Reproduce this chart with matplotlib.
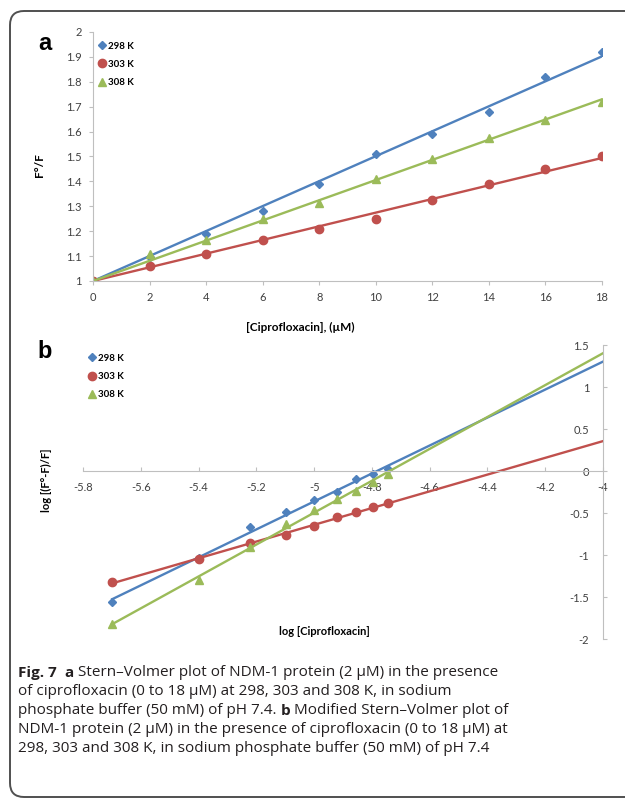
import numpy as np
import matplotlib
matplotlib.use('Agg')
from matplotlib import pyplot as plt
from matplotlib.patches import FancyBboxPatch

plt.rcParams['axes.unicode_minus'] = False
plt.rcParams['font.family'] = ['Lato', 'DejaVu Sans']

# panel a: Stern-Volmer
conc = [0, 2, 4, 6, 8, 10, 12, 14, 16, 18]
f298 = [1.0, 1.095, 1.19, 1.28, 1.39, 1.51, 1.59, 1.68, 1.82, 1.92]
f303 = [1.0, 1.06, 1.11, 1.165, 1.21, 1.25, 1.325, 1.39, 1.45, 1.50]
f308 = [1.0, 1.11, 1.165, 1.25, 1.315, 1.41, 1.49, 1.575, 1.645, 1.72]

# panel b: modified Stern-Volmer
logc = [-5.699, -5.398, -5.222, -5.097, -5.0, -4.921, -4.854, -4.796, -4.745]
l298 = [-1.56, -1.04, -0.67, -0.49, -0.345, -0.25, -0.10, -0.04, 0.02]
l303 = [-1.32, -1.05, -0.86, -0.76, -0.65, -0.55, -0.49, -0.43, -0.38]
l308 = [-1.82, -1.30, -0.91, -0.63, -0.46, -0.33, -0.24, -0.13, -0.03]

labels = ['298 K', '303 K', '308 K']
colors = ['#4F81BD', '#C0504D', '#9BBB59']
markers = ['D', 'o', '^']
msizes = [4.5, 6, 5.5]

tick_col = '#404040'
spine_col = '#BFBFBF'

fig = plt.figure(figsize=(6.25, 8.01), dpi=100)

# background layer in pixel coords
bg = fig.add_axes([0, 0, 1, 1], zorder=-1)
bg.set_xlim(0, 625)
bg.set_ylim(801, 0)
bg.axis('off')
bg.add_patch(FancyBboxPatch((10, 11), 660, 786, boxstyle='round,pad=0,rounding_size=14',
                            fc='white', ec='#505050', lw=1.4))
bg.text(45, 43, 'a', fontsize=17, fontweight='bold', family='Liberation Sans', ha='center', va='center')
bg.text(45, 351, 'b', fontsize=17, fontweight='bold', family='Liberation Sans', ha='center', va='center')

# ---- panel a ----
ax1 = fig.add_axes([0.1488, 0.6492, 0.8144, 0.3109])
ax1.set_facecolor('none')
xfit = np.linspace(0, 18, 50)
cx = np.array(conc, dtype=float)
for y, c, m, ms, lb in zip([f298, f303, f308], colors, markers, msizes, labels):
    # trendline with intercept fixed at 1
    k = np.linalg.lstsq(cx[:, None], np.array(y) - 1, rcond=None)[0][0]
    ax1.plot(xfit, 1 + k * xfit, color=c, lw=1.7)
    ax1.plot(conc, y, ls='none', marker=m, ms=ms, color=c, label=lb)
ax1.set_xlim(0, 18)
ax1.set_ylim(1, 2)
ax1.set_xticks(np.arange(0, 19, 2))
yt1 = np.round(np.arange(1, 2.01, 0.1), 1)
ax1.set_yticks(yt1)
ax1.set_yticklabels(['%g' % v for v in yt1])
for s in ['top', 'right']:
    ax1.spines[s].set_visible(False)
for s in ['left', 'bottom']:
    ax1.spines[s].set_color(spine_col)
ax1.tick_params(colors=spine_col, labelcolor=tick_col, labelsize=8, length=3, pad=5)
ax1.set_ylabel('F°/F', fontsize=8.5, fontweight='bold')
ax1.yaxis.set_label_coords(-0.094, 0.466)
ax1.set_xlabel('[Ciprofloxacin], (µM)', fontsize=8.5, fontweight='bold')
ax1.xaxis.set_label_coords(0.407, -0.165)
ax1.legend(loc='upper left', bbox_to_anchor=(0.0, 0.985), frameon=False,
           prop={'size': 7, 'weight': 'bold'}, handlelength=0.6, handletextpad=0.3,
           labelspacing=0.95, borderaxespad=0.2)

# ---- panel b ----
ax2 = fig.add_axes([0.1328, 0.2022, 0.832, 0.3670])
ax2.set_facecolor('none')
xfit = np.linspace(-5.699, -4, 50)
for y, c, m, ms, lb in zip([l298, l303, l308], colors, markers, msizes, labels):
    p = np.polyfit(logc, y, 1)
    ax2.plot(xfit, np.polyval(p, xfit), color=c, lw=1.7)
    ax2.plot(logc, y, ls='none', marker=m, ms=ms, color=c, label=lb)
ax2.set_xlim(-5.8, -4)
ax2.set_ylim(-2, 1.5)
xt = np.round(np.arange(-5.8, -3.99, 0.2), 1)
ax2.set_xticks(xt)
ax2.set_xticklabels(['%g' % v for v in xt])
yt = np.arange(-2, 1.51, 0.5)
ax2.set_yticks(yt)
ax2.set_yticklabels(['%g' % v for v in yt])
ax2.spines['top'].set_visible(False)
ax2.spines['right'].set_visible(False)
ax2.spines['bottom'].set_position(('data', 0))
ax2.spines['left'].set_position(('data', -4))
for s in ['left', 'bottom']:
    ax2.spines[s].set_color(spine_col)
ax2.tick_params(colors=spine_col, labelcolor=tick_col, labelsize=8, length=3, direction='in')
ax2.tick_params(axis='x', pad=8)
ax2.tick_params(axis='y', pad=10)
ax2.set_ylabel('log [(F°-F)/F]', fontsize=8, fontweight='bold')
ax2.yaxis.set_label_coords(-0.06, 0.54)
ax2.set_xlabel('log [Ciprofloxacin]', fontsize=8, fontweight='bold')
ax2.xaxis.set_label_coords(0.465, 0.044)
ax2.legend(loc='upper left', bbox_to_anchor=(0.0, 0.99), frameon=False,
           prop={'size': 7, 'weight': 'bold'}, handlelength=0.6, handletextpad=0.3,
           labelspacing=0.95, borderaxespad=0.2)

# ---- caption ----
cap_lines = [
    [('Fig. 7', 'bold'), ('  ', 'normal'), ('a', 'bold'),
     (' Stern–Volmer plot of NDM-1 protein (2 µM) in the presence', 'normal')],
    [('of ciprofloxacin (0 to 18 µM) at 298, 303 and 308 K, in sodium', 'normal')],
    [('phosphate buffer (50 mM) of pH 7.4. ', 'normal'), ('b', 'bold'),
     (' Modified Stern–Volmer plot of', 'normal')],
    [('NDM-1 protein (2 µM) in the presence of ciprofloxacin (0 to 18 µM) at', 'normal')],
    [('298, 303 and 308 K, in sodium phosphate buffer (50 mM) of pH 7.4', 'normal')],
]
renderer = fig.canvas.get_renderer()
y0 = 673
for i, line in enumerate(cap_lines):
    x = 18
    for txt, w in line:
        t = bg.text(x, y0 + i * 18.9, txt, fontsize=11.0, fontweight=w, family='Open Sans',
                    ha='left', va='center', color='#231f20')
        x += t.get_window_extent(renderer).width

fig.savefig('out.png', dpi=100)
